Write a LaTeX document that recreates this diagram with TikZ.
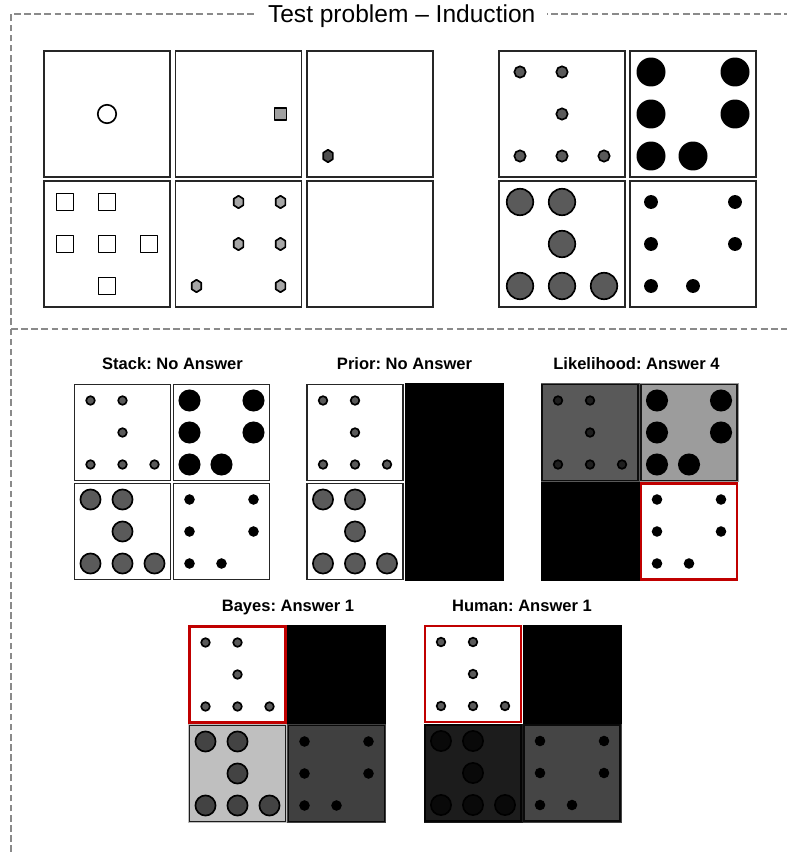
\documentclass[tikz,border=0pt]{standalone}
\usepackage{fontspec}
\setmainfont{Liberation Sans}
\usepackage{tikz}
\usetikzlibrary{positioning}
\frenchspacing

\definecolor{framegrey}{HTML}{8A8A8A}
\definecolor{panelline}{HTML}{262626}
\definecolor{shapegrey}{HTML}{5A5A5A}
\definecolor{hexgrey}{HTML}{A6A6A6}
\definecolor{hexdark}{HTML}{505050}
\definecolor{squaregrey}{HTML}{A0A0A0}
\definecolor{answerred}{HTML}{C00000}

\tikzset{
  frameline/.style={framegrey, line width=0.8pt, dash pattern=on 5pt off 2.6pt},
  shapeline/.style={draw=black, line width=1.25pt},
  maintitle/.style={fill=white, inner xsep=9pt, inner ysep=2pt, anchor=base,
    font=\fontsize{18.4}{22}\selectfont},
  gridtitle/.style={anchor=base, inner sep=0pt, font=\fontsize{12.4}{15}\selectfont\bfseries}
}

% panel contents, drawn on a 6 x 6 panel (y runs down)
\newcommand{\hexat}[3]{\filldraw[shapeline, fill=#3, line join=round] (#1,#2) ++(0,-0.3) -- ++(0.23,0.15)
  -- ++(0,0.3) -- ++(-0.23,0.15) -- ++(-0.23,-0.15) -- ++(0,-0.3) -- cycle;}
\newcommand{\patRing}{\draw[shapeline, fill=white] (3,3) circle (0.44);}
\newcommand{\patSquare}{\draw[shapeline, fill=squaregrey, line join=round] (4.72,2.72) rectangle (5.28,3.28);}
\newcommand{\patHex}{\hexat{1}{5}{hexdark}}
\newcommand{\patSquares}{\foreach \a/\b in {1/1,3/1,1/3,3/3,5/3,3/5}
  \draw[shapeline, line join=round] (\a,\b) ++(-0.41,-0.41) rectangle ++(0.82,0.82);}
\newcommand{\patHexes}{\foreach \a/\b in {3/1,5/1,3/3,5/3,1/5,5/5} \hexat{\a}{\b}{hexgrey};}
\newcommand{\patSmallGrey}{\foreach \a/\b in {1/1,3/1,3/3,1/5,3/5,5/5}
  \draw[shapeline, fill=shapegrey] (\a,\b) circle (0.27);}
\newcommand{\patBigBlack}{\foreach \a/\b in {1/1,5/1,1/3,5/3,1/5,3/5}
  \fill (\a,\b) circle (0.69);}
\newcommand{\patBigGrey}{\foreach \a/\b in {1/1,3/1,3/3,1/5,3/5,5/5}
  \draw[shapeline, fill=shapegrey] (\a,\b) circle (0.63);}
\newcommand{\patSmallBlack}{\foreach \a/\b in {1/1,5/1,1/3,5/3,1/5,3/5}
  \fill (\a,\b) circle (0.33);}

% x, y, size, contents, border colour, border width
\newcommand{\panel}[6]{%
  \fill[white] (#1,#2) rectangle ++(#3,#3);
  \begin{scope}[shift={(#1,#2)}, scale=#3/6] #4 \end{scope}
  \draw[draw=#5, line width=#6] (#1,#2) rectangle ++(#3,#3);
}

% x, y, darkening of cells 1-4, answer cell (0 = none)
\newcommand{\answergrid}[7]{%
  \foreach \k/\i/\j/\pat/\o in {1/0/0/\patSmallGrey/#3, 2/1/0/\patBigBlack/#4,
                                3/0/1/\patBigGrey/#5, 4/1/1/\patSmallBlack/#6}{
    \ifnum\k=#7 \def\bc{answerred}\def\lw{1.7pt}\else\def\bc{panelline}\def\lw{1.1pt}\fi
    \panel{#1+99*\i+1.5}{#2+99*\j+1.5}{96}{\pat}{\bc}{\lw}
    \fill[black, opacity=\o] (#1+99*\i,#2+99*\j) rectangle ++(99,99);
  }
}

\begin{document}
\begin{tikzpicture}[x=0.75pt, y=-0.75pt]
  \useasboundingbox (0,0) rectangle (787,852);

  % Frame
  \draw[frameline] (11,852) -- (11,14) -- (787,14);
  \draw[frameline] (11,329) -- (787,329);
  \node[maintitle] (title) at (401.7,23) {Test problem -- Induction};

  % Test problem: 3 x 2 matrix
  \foreach \i/\j/\pat in {0/0/\patRing, 1/0/\patSquare, 2/0/\patHex,
                          0/1/\patSquares, 1/1/\patHexes, 2/1/{}}
    \panel{44+131.5*\i}{51+130*\j}{126}{\pat}{panelline}{1.2pt};

  % Test problem: answer choices
  \foreach \i/\j/\pat in {0/0/\patSmallGrey, 1/0/\patBigBlack,
                          0/1/\patBigGrey, 1/1/\patSmallBlack}
    \panel{499+131*\i}{51+130*\j}{126}{\pat}{panelline}{1.2pt};

  % Model answers
  \node[gridtitle] (stacklabel) at (172.5,369.5) {Stack: No Answer};
  \answergrid{73}{383}{0}{0}{0}{0}{0}

  \node[gridtitle] (priorlabel) at (404.5,369.5) {Prior: No Answer};
  \answergrid{305.5}{383}{0}{1}{0}{1}{0}

  \node[gridtitle] (likelabel) at (636.5,369.5) {Likelihood: Answer 4};
  \answergrid{540.5}{383}{0.65}{0.39}{1}{0}{4}

  \node[gridtitle] (bayeslabel) at (288,611.5) {Bayes: Answer 1};
  \answergrid{188}{625}{0}{1}{0.25}{0.75}{1}

  \node[gridtitle] (humanlabel) at (522,611.5) {Human: Answer 1};
  \answergrid{423.5}{624.5}{0}{1}{0.89}{0.73}{1}
\end{tikzpicture}
\end{document}
